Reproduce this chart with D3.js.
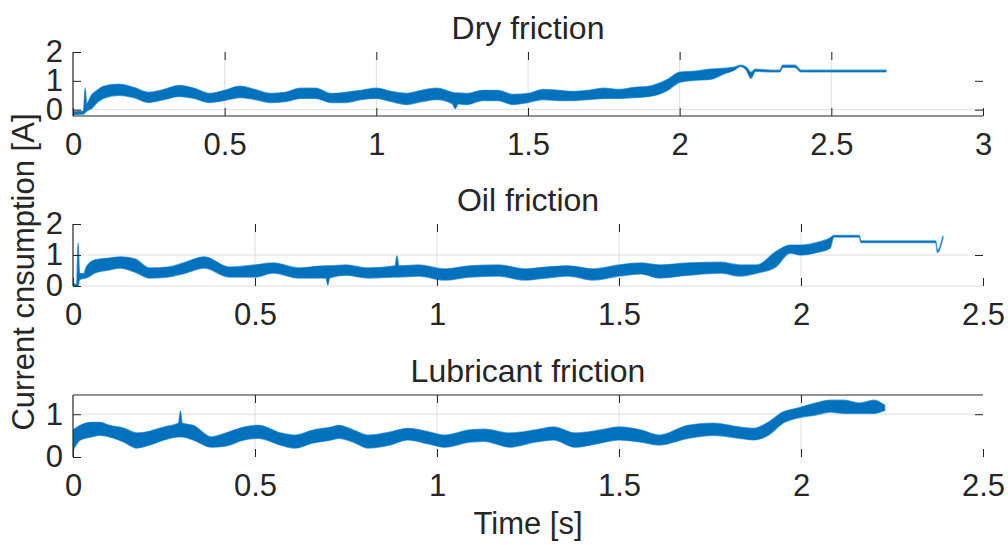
<!DOCTYPE html>
<html><head><meta charset="utf-8">
<script src="https://cdn.jsdelivr.net/npm/d3@7"></script>
<style>
html,body{margin:0;padding:0;background:#fff;}
svg{display:block;}
text{font-family:"Liberation Sans",Arial,sans-serif;fill:#262626;}
</style></head>
<body>
<svg id="chart" width="1008" height="545"></svg>
<script>
// ---------- data ----------
const titles = ["Dry friction", "Oil friction", "Lubricant friction"];
const yAxisLabel = "Current cnsumption [A]";
const xAxisLabel = "Time [s]";

const xTicksDry = [0, 0.5, 1, 1.5, 2, 2.5, 3];
const xTicksOther = [0, 0.5, 1, 1.5, 2, 2.5];
const yTicksDry = [0, 1, 2];
const yTicksOil = [0, 1, 2];
const yTicksLub = [0, 1];

// Dry friction: time [s], lower / upper envelope of the noisy current trace [A]
const dryT  = [0,0.035,0.04,0.045,0.06,0.08,0.10,0.15,0.20,0.25,0.30,0.35,0.40,0.45,0.50,0.55,0.60,0.65,0.70,0.75,0.80,0.85,0.90,0.95,1.00,1.05,1.10,1.15,1.20,1.25,1.26,1.27,1.30,1.35,1.40,1.45,1.50,1.55,1.60,1.65,1.70,1.75,1.80,1.85,1.90,1.93,1.96,2.00,2.05,2.10,2.15,2.18,2.20,2.22,2.235,2.25,2.30,2.33,2.34,2.38,2.40,2.50,2.60,2.68];
const dryLo = [-0.17,-0.15,-0.10,-0.05,0.03,0.25,0.39,0.50,0.42,0.25,0.35,0.46,0.39,0.25,0.32,0.42,0.35,0.25,0.28,0.39,0.39,0.25,0.25,0.35,0.39,0.28,0.18,0.28,0.35,0.21,0.04,0.20,0.18,0.32,0.32,0.18,0.25,0.35,0.32,0.32,0.35,0.39,0.39,0.42,0.46,0.53,0.67,0.95,1.02,1.05,1.26,1.37,1.50,1.37,1.09,1.33,1.31,1.31,1.47,1.47,1.31,1.31,1.31,1.31];
const dryHi = [-0.07,-0.05,0.75,0.20,0.49,0.67,0.81,0.88,0.77,0.60,0.70,0.84,0.74,0.56,0.67,0.81,0.70,0.56,0.60,0.74,0.74,0.56,0.60,0.67,0.74,0.63,0.56,0.67,0.74,0.60,0.58,0.58,0.56,0.67,0.67,0.53,0.56,0.70,0.67,0.63,0.67,0.74,0.70,0.77,0.81,0.91,1.05,1.30,1.33,1.40,1.44,1.47,1.54,1.47,1.30,1.40,1.37,1.37,1.54,1.54,1.37,1.37,1.37,1.37];

// Oil friction
const oilT  = [0,0.010,0.014,0.018,0.03,0.036,0.06,0.10,0.13,0.17,0.21,0.26,0.31,0.36,0.43,0.50,0.55,0.62,0.695,0.70,0.705,0.75,0.81,0.885,0.89,0.895,0.95,1.02,1.09,1.17,1.24,1.30,1.36,1.43,1.50,1.56,1.61,1.69,1.78,1.83,1.88,1.93,1.97,2.00,2.05,2.08,2.09,2.16,2.165,2.37,2.375,2.39];
const oilLo = [0.00,0.00,0.00,0.20,0.25,0.26,0.42,0.52,0.58,0.45,0.26,0.29,0.42,0.58,0.29,0.29,0.42,0.26,0.26,0.03,0.26,0.35,0.26,0.29,0.29,0.29,0.32,0.19,0.29,0.32,0.19,0.26,0.32,0.19,0.32,0.39,0.26,0.35,0.42,0.32,0.42,0.61,1.06,1.00,1.10,1.22,1.58,1.58,1.40,1.40,1.08,1.55];
const oilHi = [0.06,0.06,1.39,0.40,0.40,0.60,0.84,0.90,0.94,0.87,0.58,0.61,0.77,0.94,0.61,0.68,0.74,0.58,0.65,0.65,0.65,0.68,0.58,0.65,0.97,0.65,0.68,0.55,0.65,0.68,0.55,0.61,0.65,0.55,0.68,0.74,0.68,0.74,0.77,0.68,0.68,1.10,1.32,1.32,1.42,1.55,1.63,1.63,1.45,1.45,1.14,1.61];

// Lubricant friction
const lubT  = [0,0.02,0.05,0.074,0.10,0.14,0.175,0.21,0.25,0.29,0.295,0.30,0.33,0.38,0.42,0.47,0.51,0.57,0.61,0.66,0.71,0.73,0.77,0.81,0.87,0.92,0.98,1.02,1.09,1.13,1.20,1.27,1.32,1.38,1.45,1.50,1.56,1.61,1.69,1.76,1.83,1.87,1.91,1.95,1.99,2.04,2.08,2.12,2.16,2.20,2.23];
const lubLo = [0.16,0.40,0.47,0.51,0.47,0.35,0.21,0.28,0.40,0.47,0.47,0.47,0.40,0.23,0.26,0.40,0.44,0.28,0.21,0.33,0.40,0.44,0.35,0.21,0.28,0.40,0.30,0.23,0.35,0.37,0.23,0.35,0.40,0.23,0.33,0.40,0.35,0.28,0.44,0.51,0.44,0.40,0.51,0.79,0.91,0.98,1.05,1.02,1.02,1.02,1.09];
const lubHi = [0.63,0.74,0.81,0.81,0.74,0.67,0.56,0.60,0.70,0.79,1.07,0.79,0.74,0.47,0.56,0.70,0.74,0.56,0.51,0.63,0.70,0.74,0.63,0.51,0.58,0.67,0.58,0.51,0.63,0.65,0.56,0.63,0.70,0.56,0.63,0.70,0.63,0.51,0.74,0.79,0.70,0.67,0.81,1.05,1.14,1.26,1.33,1.33,1.26,1.33,1.21];

// ---------- layout ----------
const svg = d3.select("#chart");
const LEFT = 73, RIGHT = 983, TICK = 8;
const lineColor = "#0072BD";

const panels = [
  {title: titles[0], t: dryT, lo: dryLo, hi: dryHi, xTicks: xTicksDry, xMax: 3, yTicks: yTicksDry, yDom: [-0.22, 2], top: 52, bottom: 116, titleY: 39, hGrid: [0], bottomLine: true, topLine: false},
  {title: titles[1], t: oilT, lo: oilLo, hi: oilHi, xTicks: xTicksOther, xMax: 2.5, yTicks: yTicksOil, yDom: [0, 2], top: 224, bottom: 286, titleY: 211, hGrid: [0, 1], bottomLine: false, topLine: false},
  {title: titles[2], t: lubT, lo: lubLo, hi: lubHi, xTicks: xTicksOther, xMax: 2.5, yTicks: yTicksLub, yDom: [0, 1.45], top: 395, bottom: 457, titleY: 382, hGrid: [1], bottomLine: false, topLine: true}
];

const fmt = d => String(d);

panels.forEach((p, i) => {
  const x = d3.scaleLinear().domain([0, p.xMax]).range([LEFT, RIGHT]);
  const y = d3.scaleLinear().domain(p.yDom).range([p.bottom, p.top]);
  const g = svg.append("g");

  // grid
  g.selectAll(".vg").data(p.xTicks.filter(v => v > 0 && v < p.xMax)).join("line")
    .attr("x1", d => x(d)).attr("x2", d => x(d))
    .attr("y1", p.top).attr("y2", p.bottom)
    .attr("stroke", "#dedede").attr("stroke-width", 1);
  g.selectAll(".hg").data(p.hGrid).join("line")
    .attr("x1", LEFT).attr("x2", RIGHT)
    .attr("y1", d => y(d)).attr("y2", d => y(d))
    .attr("stroke", "#dedede").attr("stroke-width", 1);

  // clip
  const cid = "clip" + i;
  svg.append("clipPath").attr("id", cid).append("rect")
    .attr("x", LEFT).attr("y", p.top).attr("width", RIGHT - LEFT).attr("height", p.bottom - p.top);

  // data band
  const rows = p.t.map((t, k) => ({t, lo: p.lo[k], hi: p.hi[k]}));
  const area = d3.area().curve(d3.curveMonotoneX).x(d => x(d.t)).y0(d => y(d.lo)).y1(d => y(d.hi));
  g.append("path").datum(rows)
    .attr("clip-path", `url(#${cid})`)
    .attr("d", area)
    .attr("fill", lineColor)
    .attr("stroke", "#5aa6dc").attr("stroke-width", 1.4)
    .attr("stroke-linejoin", "round")
    .style("paint-order", "stroke");

  // axes
  const ax = g.append("g").attr("transform", `translate(0,${p.bottom})`)
    .call(d3.axisBottom(x).tickValues(p.xTicks).tickFormat(fmt).tickSize(-TICK).tickPadding(17));
  const axTop = g.append("g").attr("transform", `translate(0,${p.top})`)
    .call(d3.axisTop(x).tickValues(p.xTicks.filter(v => v > 0 && v < p.xMax)).tickFormat("").tickSize(-TICK));
  const ay = g.append("g").attr("transform", `translate(${LEFT},0)`)
    .call(d3.axisLeft(y).tickValues(p.yTicks).tickFormat(fmt).tickSize(-TICK).tickPadding(10));
  const ayR = g.append("g").attr("transform", `translate(${RIGHT},0)`)
    .call(d3.axisRight(y).tickValues(p.yTicks.filter(v => y(v) < p.bottom - 1 && y(v) > p.top + 1)).tickFormat("").tickSize(-TICK));
  [ax, axTop, ay, ayR].forEach(a => {
    a.select(".domain").remove();
    a.selectAll(".tick line").attr("stroke", "#262626").attr("stroke-width", 1);
    a.selectAll("text").style("font-size", "31px").attr("fill", "#262626");
  });

  // axis lines
  g.append("line").attr("x1", LEFT).attr("x2", LEFT).attr("y1", p.top).attr("y2", p.bottom)
    .attr("stroke", "#262626").attr("stroke-width", 1.2);
  if (p.bottomLine) g.append("line").attr("x1", LEFT).attr("x2", RIGHT).attr("y1", p.bottom).attr("y2", p.bottom)
    .attr("stroke", "#262626").attr("stroke-width", 1.2);
  if (p.topLine) g.append("line").attr("x1", LEFT).attr("x2", RIGHT).attr("y1", p.top).attr("y2", p.top)
    .attr("stroke", "#262626").attr("stroke-width", 1.2);

  // title
  g.append("text").attr("x", (LEFT + RIGHT) / 2).attr("y", p.titleY)
    .attr("text-anchor", "middle").style("font-size", "32px").text(p.title);
});

svg.append("text").attr("x", (LEFT + RIGHT) / 2).attr("y", 534)
  .attr("text-anchor", "middle").style("font-size", "31px").text(xAxisLabel);
svg.append("text").attr("transform", "translate(34,272) rotate(-90)")
  .attr("text-anchor", "middle").style("font-size", "31px").text(yAxisLabel);
</script>
</body></html>
